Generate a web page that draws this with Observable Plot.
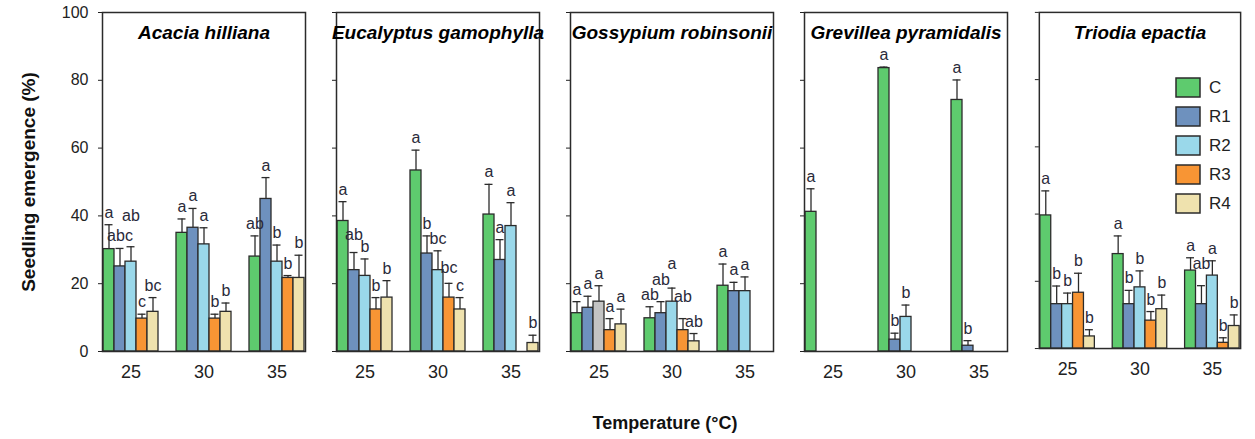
<!DOCTYPE html>
<html>
<head>
<meta charset="utf-8">
<script src="https://cdn.jsdelivr.net/npm/d3@7"></script>
<script src="https://cdn.jsdelivr.net/npm/@observablehq/plot@0.6"></script>
<style>
  body { margin: 0; background: #fff; font-family: "Liberation Sans", Arial, sans-serif; }
  #chart { position: relative; width: 1255px; height: 439px; overflow: hidden; background: #fff; }
  .panel { position: absolute; top: 0; }
  .panel svg { overflow: visible; }
  [aria-label="y-axis label"] text { font-weight: bold; font-size: 19px; fill: #111; }
  #xlabel { position: absolute; top: 413px; left: 0; width: 1330px; text-align: center;
            font-weight: bold; font-size: 18px; color: #111; line-height: 20px; }
  #legend { position: absolute; left: 1176px; top: 78px; }
  #legend > div { font-size: 17px; color: #222; font-family: "Liberation Sans", Arial, sans-serif; margin: 0 !important; }
  #legend > div > div { margin-bottom: 9px !important; line-height: 19px; display: flex; align-items: center; }
  #legend svg { margin-right: 9px !important; overflow: visible; }
  #legend svg rect { stroke: #2b2b2b; stroke-width: 1.5px; }
</style>
</head>
<body>
<div id="chart"></div>
<script>
// ---------------- data ----------------
const species = ["Acacia hilliana", "Eucalyptus gamophylla", "Gossypium robinsonii", "Grevillea pyramidalis", "Triodia epactia"];
const temperatures = [25, 30, 35];
const treatments = ["C", "R1", "R2", "R3", "R4"];
const treatmentColors = ["#5ecb6e", "#6e91be", "#9ad8ea", "#f89534", "#efe2ae"];

// rows = temperature (25, 30, 35); columns = treatment (C, R1, R2, R3, R4); null = no bar
const acaciaMean = [[30.2, 25.1, 26.5, 9.7, 11.7], [35.0, 36.5, 31.6, 9.7, 11.7], [28.0, 45.0, 26.5, 21.7, 21.7]];
const acaciaErr  = [[7.2, 5.3, 4.4, 1.3, 4.2], [4.1, 5.7, 4.9, 1.3, 2.6], [6.1, 6.3, 4.9, 0.7, 6.7]];
const acaciaLetters = [["a", "abc", "ab", "c", "bc"], ["a", "a", "a", "b", "b"], ["ab", "a", "b", "b", "b"]];

const eucalyptusMean = [[38.5, 24.0, 22.3, 12.4, 15.9], [53.4, 28.9, 24.0, 15.9, 12.4], [40.4, 27.0, 37.0, null, 2.5]];
const eucalyptusErr  = [[5.7, 5.2, 5.0, 3.5, 5.0], [6.0, 5.2, 5.7, 4.2, 3.5], [8.9, 6.0, 6.9, null, 2.3]];
const eucalyptusLetters = [["a", "ab", "b", "b", "b"], ["a", "b", "bc", "bc", "c"], ["a", "a", "a", null, "b"]];

const gossypiumMean = [[11.3, 12.9, 14.7, 6.3, 8.0], [9.8, 11.3, 14.7, 6.3, 3.0], [19.4, 17.8, 17.8, null, null]];
const gossypiumErr  = [[3.4, 3.4, 4.7, 3.4, 4.5], [3.4, 3.4, 4.0, 3.4, 2.3], [6.4, 2.6, 4.2, null, null]];
const gossypiumLetters = [["a", "a", "a", "a", "a"], ["ab", "ab", "a", "ab", "ab"], ["a", "a", "a", null, null]];

const grevilleaMean = [[41.2, null, null, null, null], [83.6, 3.5, 10.2, null, null], [74.2, 1.7, null, null, null]];
const grevilleaErr  = [[6.8, null, null, null, null], [0.3, 1.9, 3.5, null, null], [5.9, 1.5, null, null, null]];
const grevilleaLetters = [["a", null, null, null, null], ["a", "b", "b", null, null], ["a", "b", null, null, null]];

const triodiaMean = [[39.6, 13.2, 13.2, 16.6, 3.6], [28.1, 13.2, 18.2, 8.3, 11.7], [23.2, 13.2, 21.7, 1.7, 6.7]];
const triodiaErr  = [[7.3, 5.4, 3.3, 5.8, 2.0], [5.4, 4.1, 4.9, 2.7, 4.2], [3.8, 5.5, 4.4, 1.5, 3.3]];
const triodiaLetters = [["a", "b", "b", "b", "b"], ["a", "b", "b", "b", "b"], ["a", "ab", "a", "b", "b"]];

const yTicks = [0, 20, 40, 60, 80, 100];

// ---------------- build ----------------
const speciesMeans = [acaciaMean, eucalyptusMean, gossypiumMean, grevilleaMean, triodiaMean];
const speciesErrs = [acaciaErr, eucalyptusErr, gossypiumErr, grevilleaErr, triodiaErr];
const speciesLetters = [acaciaLetters, eucalyptusLetters, gossypiumLetters, grevilleaLetters, triodiaLetters];

// a gray bar in the original (Gossypium, 25 °C, R2)
const grayBar = (sp, t, tr) => sp === "Gossypium robinsonii" && t === 25 && tr === "R2";
// letters lifted in the original to avoid overlapping their neighbours (pixels)
const letterLift = {
  "Acacia hilliana|25|R2": 19,
  "Eucalyptus gamophylla|25|R1": 6,
  "Eucalyptus gamophylla|30|R3": 3,
  "Gossypium robinsonii|30|R1": 10,
  "Gossypium robinsonii|30|R2": 12,
  "Gossypium robinsonii|30|R3": 10,
  "Triodia epactia|35|R1": 10
};

const frameLefts = [94, 328, 562, 796, 1031];
const frameWidth = 220;
const colorOf = Object.fromEntries(treatments.map((t, i) => [t, treatmentColors[i]]));
const chart = document.getElementById("chart");
const ink = "#2b2b2b";

species.forEach((sp, si) => {
  const rows = [];
  temperatures.forEach((t, ti) => {
    treatments.forEach((tr, ri) => {
      const m = speciesMeans[si][ti][ri];
      if (m == null) return;
      rows.push({
        species: sp, temp: t, treatment: tr, mean: m,
        err: speciesErrs[si][ti][ri], letter: speciesLetters[si][ti][ri],
        lift: letterLift[`${sp}|${t}|${tr}`] || 0
      });
    });
  });
  const lifts = [...new Set(rows.map(d => d.lift))];
  const letterMarks = lifts.map(l => Plot.text(rows.filter(d => d.letter && d.lift === l), {
    fx: "temp", x: "treatment", y: d => d.mean + d.err, text: "letter",
    lineAnchor: "bottom", dy: -7 - l, fontSize: 16, fill: "#2a2a3a"
  }));
  const first = si === 0;
  const ml = first ? 94 : 12, mr = 6;
  const plot = Plot.plot({
    width: ml + frameWidth + mr,
    height: 395,
    marginLeft: ml, marginRight: mr, marginTop: 12, marginBottom: 44,
    style: {fontFamily: '"Liberation Sans", Arial, sans-serif', color: "#222", background: "transparent"},
    fx: {domain: temperatures, paddingInner: 0.218, paddingOuter: 0.109, label: null},
    x: {domain: treatments, padding: 0, axis: null},
    y: {domain: [0, 100], label: null},
    marks: [
      Plot.barY(rows, {
        fx: "temp", x: "treatment", y: "mean",
        fill: d => grayBar(d.species, d.temp, d.treatment) ? "#c3c3c3" : colorOf[d.treatment],
        stroke: ink, strokeWidth: 1.3
      }),
      Plot.ruleX(rows, {fx: "temp", x: "treatment", y1: "mean", y2: d => d.mean + d.err, stroke: ink, strokeWidth: 1.3}),
      Plot.tickY(rows, {fx: "temp", x: "treatment", y: d => d.mean + d.err, stroke: ink, strokeWidth: 1.3, insetLeft: 1.5, insetRight: 1.5}),
      ...letterMarks,
      Plot.axisY({
        ticks: yTicks, tickSize: 4, tickPadding: 10, fontSize: 16,
        tickFormat: first ? (d => d) : (() => ""),
        label: first ? "Seedling emergence (%)" : null,
        labelAnchor: "center", labelArrow: "none", labelOffset: 81
      }),
      Plot.axisFx({anchor: "bottom", tickSize: 0, tickPadding: 14, fontSize: 18, label: null}),
      Plot.frame({facet: "super", stroke: ink, strokeWidth: 1.5}),
      Plot.text([sp], {facet: "super", frameAnchor: "top", dy: 13, text: d => d,
        fontSize: 19, fontWeight: "bold", fontStyle: "italic", fill: "#000"})
    ]
  });
  const div = document.createElement("div");
  div.className = "panel";
  div.style.left = (frameLefts[si] - ml) + "px";
  div.appendChild(plot);
  chart.appendChild(div);
});

const xl = document.createElement("div");
xl.id = "xlabel";
xl.textContent = "Temperature (°C)";
chart.appendChild(xl);

const lg = document.createElement("div");
lg.id = "legend";
lg.appendChild(Plot.legend({
  color: {domain: treatments, range: treatmentColors},
  legend: "swatches", columns: 1, swatchWidth: 24, swatchHeight: 19, className: "lg"
}));
chart.appendChild(lg);
</script>
</body>
</html>
